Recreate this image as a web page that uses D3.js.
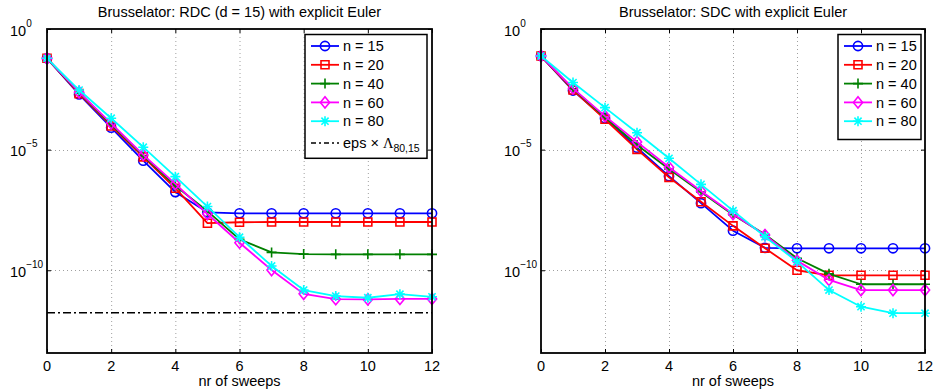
<!DOCTYPE html>
<html>
<head>
<meta charset="utf-8">
<script src="https://cdn.jsdelivr.net/npm/d3@7"></script>
<style>
  body { margin: 0; background: #fff; }
  svg { font-family: "Liberation Sans", Arial, Helvetica, sans-serif; }
  .grid line { stroke: #a0a0a0; stroke-width: 1; stroke-dasharray: 1,3; }
</style>
</head>
<body>
<svg width="935" height="391"></svg>
<script>
// sweeps 0..12
var sweeps = [0, 1, 2, 3, 4, 5, 6, 7, 8, 9, 10, 11, 12];
var seriesNames = ["n = 15", "n = 20", "n = 40", "n = 60", "n = 80"];
var seriesColors = ["#0000ff", "#ff0000", "#008000", "#ff00ff", "#00ffff"];
var seriesMarkers = ["circle", "square", "plus", "diamond", "star"];

// error after each sweep, RDC (d = 15)
var rdcN15 = [6.1e-2, 1.95e-3, 8.13e-5, 3.47e-6, 1.74e-7, 2.51e-8, 2.29e-8, 2.29e-8, 2.29e-8, 2.29e-8, 2.29e-8, 2.29e-8, 2.29e-8];
var rdcN20 = [6.1e-2, 2.09e-3, 9.55e-5, 5.01e-6, 2.51e-7, 8.91e-9, 9.77e-9, 1.0e-8, 1.0e-8, 1.0e-8, 1.0e-8, 1.0e-8, 1.0e-8];
var rdcN40 = [6.1e-2, 2.29e-3, 1.10e-4, 5.62e-6, 3.16e-7, 2.82e-8, 1.91e-9, 5.50e-10, 4.68e-10, 4.57e-10, 4.57e-10, 4.57e-10, 4.57e-10];
var rdcN60 = [6.1e-2, 2.40e-3, 1.23e-4, 6.03e-6, 3.80e-7, 2.14e-8, 1.38e-9, 1.02e-10, 1.05e-11, 6.31e-12, 6.17e-12, 6.46e-12, 6.46e-12];
var rdcN80 = [6.1e-2, 2.95e-3, 2.00e-4, 1.26e-5, 7.59e-7, 4.37e-8, 2.34e-9, 1.51e-10, 1.51e-11, 8.51e-12, 7.24e-12, 1.02e-11, 7.94e-12];
var rdcEpsLambda = 1.74e-12;

// error after each sweep, SDC
var sdcN15 = [7.59e-2, 2.82e-3, 2.00e-4, 1.20e-5, 7.94e-7, 6.03e-8, 4.37e-9, 8.51e-10, 8.13e-10, 8.13e-10, 8.13e-10, 8.13e-10, 8.13e-10];
var sdcN20 = [7.59e-2, 2.95e-3, 1.82e-4, 1.02e-5, 7.08e-7, 6.92e-8, 6.92e-9, 8.13e-10, 1.0e-10, 6.17e-11, 6.17e-11, 6.17e-11, 6.17e-11];
var sdcN40 = [7.59e-2, 3.31e-3, 2.19e-4, 1.55e-5, 1.58e-6, 1.74e-7, 2.00e-8, 3.02e-9, 3.16e-10, 7.08e-11, 2.63e-11, 2.63e-11, 2.63e-11];
var sdcN60 = [7.59e-2, 3.47e-3, 2.45e-4, 2.09e-5, 1.86e-6, 1.91e-7, 2.14e-8, 2.88e-9, 2.51e-10, 3.98e-11, 1.51e-11, 1.51e-11, 1.51e-11];
var sdcN80 = [7.59e-2, 6.03e-3, 5.50e-4, 5.01e-5, 4.37e-6, 3.63e-7, 2.95e-8, 2.45e-9, 2.29e-10, 1.51e-11, 3.09e-12, 1.66e-12, 1.66e-12];

var xTicks = [0, 2, 4, 6, 8, 10, 12];
var yTickExps = [0, -5, -10];
var xLabel = "nr of sweeps";

var svg = d3.select("svg");

// marker outlines, centred on 0,0
function markerPath(kind) {
  var p = d3.path();
  if (kind == "circle") {
    p.moveTo(4.6, 0);
    p.arc(0, 0, 4.6, 0, 2 * Math.PI);
  } else if (kind == "square") {
    p.rect(-4, -4, 8, 8);
  } else if (kind == "diamond") {
    p.moveTo(0, -5.6); p.lineTo(4.6, 0); p.lineTo(0, 5.6); p.lineTo(-4.6, 0); p.closePath();
  } else if (kind == "plus") {
    p.moveTo(-5, 0); p.lineTo(5, 0); p.moveTo(0, -5); p.lineTo(0, 5);
  } else {
    p.moveTo(-5, 0); p.lineTo(5, 0); p.moveTo(0, -5); p.lineTo(0, 5);
    p.moveTo(-3.6, -3.6); p.lineTo(3.6, 3.6); p.moveTo(-3.6, 3.6); p.lineTo(3.6, -3.6);
  }
  return p.toString();
}

function drawPanel(opts) {
  var x = d3.scaleLinear().domain([0, 12]).range([opts.left, opts.right]);
  var y = d3.scaleLog().domain([Math.pow(10, -13.43), 1]).range([opts.bottom, opts.top]);
  var g = svg.append("g");

  // dotted grid
  var grid = g.append("g").attr("class", "grid");
  grid.selectAll(".vx").data(xTicks.slice(1, -1)).enter().append("line")
    .attr("x1", function (d) { return x(d) + 0.5; }).attr("x2", function (d) { return x(d) + 0.5; })
    .attr("y1", opts.top).attr("y2", opts.bottom);
  grid.selectAll(".hy").data(yTickExps.slice(1)).enter().append("line")
    .attr("y1", function (d) { return Math.round(y(Math.pow(10, d))) + 0.5; })
    .attr("y2", function (d) { return Math.round(y(Math.pow(10, d))) + 0.5; })
    .attr("x1", opts.left).attr("x2", opts.right);

  // inward ticks on all four sides
  var tickVals = yTickExps.map(function (e) { return Math.pow(10, e); });
  g.append("g").attr("transform", "translate(0," + opts.bottom + ")")
    .call(d3.axisBottom(x).tickValues(xTicks).tickSize(-4).tickFormat(""))
    .call(function (a) { a.select(".domain").remove(); });
  g.append("g").attr("transform", "translate(0," + opts.top + ")")
    .call(d3.axisTop(x).tickValues(xTicks).tickSize(-4).tickFormat(""))
    .call(function (a) { a.select(".domain").remove(); });
  g.append("g").attr("transform", "translate(" + opts.left + ",0)")
    .call(d3.axisLeft(y).tickValues(tickVals).tickSize(-4).tickFormat(""))
    .call(function (a) { a.select(".domain").remove(); });
  g.append("g").attr("transform", "translate(" + opts.right + ",0)")
    .call(d3.axisRight(y).tickValues(tickVals).tickSize(-4).tickFormat(""))
    .call(function (a) { a.select(".domain").remove(); });

  // reference level
  if (opts.refLevel) {
    g.append("line")
      .attr("x1", x(0)).attr("x2", x(12))
      .attr("y1", y(opts.refLevel)).attr("y2", y(opts.refLevel))
      .attr("stroke", "#000").attr("stroke-width", 1.6)
      .attr("stroke-dasharray", "8,3,2,3");
  }

  // series
  var line = d3.line().x(function (d) { return x(d[0]); }).y(function (d) { return y(d[1]); });
  opts.series.forEach(function (vals, i) {
    var pts = sweeps.map(function (s, k) { return [s, vals[k]]; });
    var sg = g.append("g");
    sg.append("path").datum(pts).attr("d", line)
      .attr("fill", "none").attr("stroke", seriesColors[i]).attr("stroke-width", 1.8)
      .attr("stroke-linejoin", "round");
    sg.selectAll("path.mk").data(pts).enter().append("path").attr("class", "mk")
      .attr("transform", function (d) { return "translate(" + x(d[0]) + "," + y(d[1]) + ")"; })
      .attr("d", markerPath(seriesMarkers[i]))
      .attr("fill", "none").attr("stroke", seriesColors[i]).attr("stroke-width", 1.6);
  });

  // axes box
  g.append("rect")
    .attr("x", opts.left).attr("y", opts.top)
    .attr("width", opts.right - opts.left).attr("height", opts.bottom - opts.top)
    .attr("fill", "none").attr("stroke", "#000").attr("stroke-width", 1.8);

  // x tick labels
  g.selectAll(".xl").data(xTicks).enter().append("text")
    .attr("x", function (d) { return x(d); }).attr("y", opts.bottom + 17.5)
    .attr("text-anchor", "middle").attr("font-size", 14.5).text(function (d) { return d; });

  // y tick labels as powers of ten
  yTickExps.forEach(function (e) {
    var ty = y(Math.pow(10, e));
    var t = g.append("text").attr("x", opts.left - 37).attr("y", ty + 6.5).attr("font-size", 14.5);
    t.append("tspan").text("10");
    t.append("tspan").attr("dy", -9).attr("font-size", 10).text(e < 0 ? "\u2212" + (-e) : e);
  });

  g.append("text").attr("x", (opts.left + opts.right) / 2).attr("y", opts.bottom + 32.5)
    .attr("text-anchor", "middle").attr("font-size", 14.5).text(xLabel);
  g.append("text").attr("x", (opts.left + opts.right) / 2).attr("y", 17)
    .attr("text-anchor", "middle").attr("font-size", 14.5).text(opts.title);

  // legend
  var rows = opts.series.length + (opts.refLevel ? 1 : 0);
  var lg = g.append("g").attr("transform", "translate(" + opts.legendX + "," + (opts.top + 5.5) + ")");
  lg.append("rect").attr("width", opts.legendW).attr("height", 11 + rows * 18.8)
    .attr("fill", "#fff").attr("stroke", "#000").attr("stroke-width", 1.5);
  seriesNames.forEach(function (name, i) {
    var ry = 11.5 + i * 18.8;
    lg.append("line").attr("x1", 6).attr("x2", 34).attr("y1", ry).attr("y2", ry)
      .attr("stroke", seriesColors[i]).attr("stroke-width", 1.8);
    lg.append("path").attr("transform", "translate(20," + ry + ")")
      .attr("d", markerPath(seriesMarkers[i]))
      .attr("fill", "none").attr("stroke", seriesColors[i]).attr("stroke-width", 1.6);
    lg.append("text").attr("x", 38).attr("y", ry + 5.2).attr("font-size", 14.5).text(name);
  });
  if (opts.refLevel) {
    var ry = 11.5 + 5 * 18.8 + 3;
    lg.append("line").attr("x1", 6).attr("x2", 34).attr("y1", ry).attr("y2", ry)
      .attr("stroke", "#000").attr("stroke-width", 1.6).attr("stroke-dasharray", "5,3,2,3");
    var t = lg.append("text").attr("x", 38).attr("y", ry + 5).attr("font-size", 14.5);
    t.append("tspan").text("eps \u00d7 ");
    t.append("tspan").attr("font-family", "'Liberation Serif', 'DejaVu Serif', serif").text("\u039b");
    t.append("tspan").attr("dy", 4).attr("font-size", 10.5).text("80,15");
  }
}

drawPanel({
  left: 47, right: 432, top: 29, bottom: 353,
  title: "Brusselator: RDC (d = 15) with explicit Euler",
  series: [rdcN15, rdcN20, rdcN40, rdcN60, rdcN80],
  refLevel: rdcEpsLambda,
  legendX: 305, legendW: 122
});

drawPanel({
  left: 541, right: 925, top: 29, bottom: 353,
  title: "Brusselator: SDC with explicit Euler",
  series: [sdcN15, sdcN20, sdcN40, sdcN60, sdcN80],
  refLevel: null,
  legendX: 838, legendW: 83
});
</script>
</body>
</html>
